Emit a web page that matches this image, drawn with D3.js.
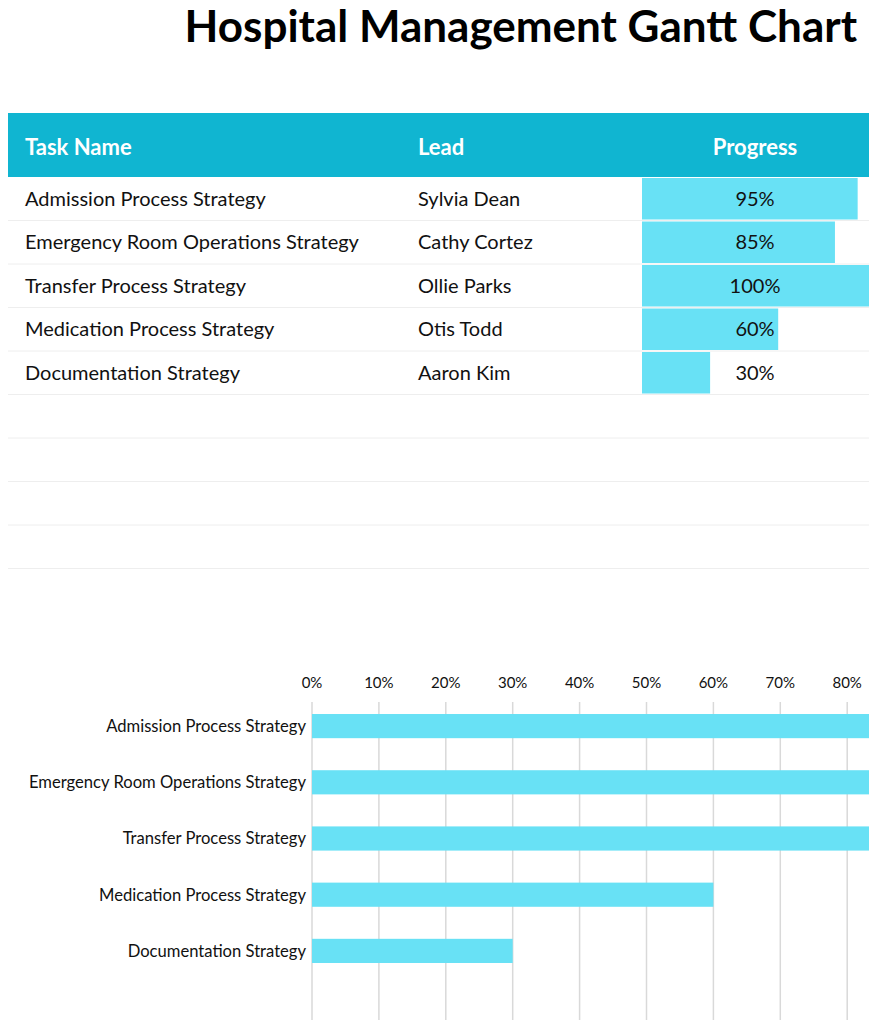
<!DOCTYPE html>
<html>
<head>
<meta charset="utf-8">
<script src="https://cdn.jsdelivr.net/npm/d3@7"></script>
<style>
  body { margin: 0; background: #fff; }
  svg { display: block; font-family: Lato, sans-serif; }
</style>
</head>
<body>
<svg id="chart"></svg>
<script>
// table + chart data
var tasks = ['Admission Process Strategy', 'Emergency Room Operations Strategy', 'Transfer Process Strategy', 'Medication Process Strategy', 'Documentation Strategy']
var leads = ['Sylvia Dean', 'Cathy Cortez', 'Ollie Parks', 'Otis Todd', 'Aaron Kim']
var progress = [0.95, 0.85, 1.00, 0.60, 0.30]
var headers = ['Task Name', 'Lead', 'Progress']
var tickValues = [0, 0.1, 0.2, 0.3, 0.4, 0.5, 0.6, 0.7, 0.8, 0.9, 1]

var width = 877,
    height = 1020

var teal = '#10b5d1',
    barColor = '#68e1f5'

var svg = d3.select('#chart')
            .attr('width', width)
            .attr('height', height)

svg.append('text')
  .attr('x', 857)
  .attr('y', 42)
  .attr('text-anchor', 'end')
  .style('font-size', '44px')
  .style('font-weight', 'bold')
  .attr('fill', '#000')
  .text('Hospital Management Gantt Chart')

// ---- table ----
var tableLeft = 8, tableRight = 869
var headTop = 113, headH = 64, rowH = 43.5, totalRows = 9
var colX = [25, 418]
var progX = d3.scaleLinear().domain([0, 1]).range([642, 869])

svg.append('rect')
  .attr('x', tableLeft).attr('y', headTop)
  .attr('width', tableRight - tableLeft).attr('height', headH)
  .attr('fill', teal)

var head = svg.append('g').attr('fill', '#fff')
  .style('font-size', '22px').style('font-weight', 'bold')
head.append('text').attr('x', colX[0]).attr('y', headTop + headH / 2 + 2).attr('dy', '0.35em').text(headers[0])
head.append('text').attr('x', colX[1]).attr('y', headTop + headH / 2 + 2).attr('dy', '0.35em').text(headers[1])
head.append('text').attr('x', 755).attr('y', headTop + headH / 2 + 2).attr('dy', '0.35em')
  .attr('text-anchor', 'middle').text(headers[2])

var bodyTop = headTop + headH

// row separators (empty rows too)
svg.append('g').selectAll('line')
  .data(d3.range(1, totalRows + 1))
  .enter().append('line')
  .attr('x1', tableLeft).attr('x2', tableRight)
  .attr('y1', (d) => bodyTop + d * rowH)
  .attr('y2', (d) => bodyTop + d * rowH)
  .attr('stroke', '#eeeeee')
  .attr('stroke-width', 1)

var rows = svg.append('g').selectAll('g')
  .data(tasks.map((t, i) => ({task: t, lead: leads[i], p: progress[i]})))
  .enter().append('g')
  .attr('transform', (d, i) => `translate(0, ${bodyTop + i * rowH})`)

rows.append('rect')
  .attr('x', progX(0))
  .attr('y', 1)
  .attr('width', (d) => progX(d.p) - progX(0))
  .attr('height', rowH - 2)
  .attr('fill', barColor)

rows.append('text').attr('x', colX[0]).attr('y', rowH / 2).attr('dy', '0.35em')
  .style('font-size', '20px').attr('fill', '#111').text((d) => d.task)
rows.append('text').attr('x', colX[1]).attr('y', rowH / 2).attr('dy', '0.35em')
  .style('font-size', '20px').attr('fill', '#111').text((d) => d.lead)
rows.append('text').attr('x', 755).attr('y', rowH / 2).attr('dy', '0.35em')
  .attr('text-anchor', 'middle')
  .style('font-size', '20px').attr('fill', '#111').text((d) => Math.round(d.p * 100) + '%')

// ---- bar chart (clipped on the right like the source) ----
svg.append('defs').append('clipPath').attr('id', 'clip')
  .append('rect').attr('x', 0).attr('y', 600).attr('width', 869).attr('height', 420)

var x = d3.scaleLinear().domain([0, 1]).range([312, 312 + 669])
var y = d3.scaleBand().domain(tasks).range([698, 979]).paddingInner(0.57).paddingOuter(0.285)

var chart = svg.append('g').attr('clip-path', 'url(#clip)')

chart.append('g').selectAll('line')
  .data(tickValues)
  .enter().append('line')
  .attr('x1', (d) => x(d)).attr('x2', (d) => x(d))
  .attr('y1', 702).attr('y2', 1020)
  .attr('stroke', '#d9d9d9')
  .attr('stroke-width', 1.5)

// only labels that fit inside the visible area
svg.append('g').selectAll('text')
  .data(tickValues.filter((d) => x(d) + 18 < width))
  .enter().append('text')
  .attr('x', (d) => x(d))
  .attr('y', 688)
  .attr('text-anchor', 'middle')
  .style('font-size', '15px')
  .attr('fill', '#111')
  .text((d) => d3.format('.0%')(d))

chart.append('g').selectAll('rect')
  .data(tasks)
  .enter().append('rect')
  .attr('x', x(0))
  .attr('y', (d) => y(d))
  .attr('width', (d, i) => x(progress[i]) - x(0))
  .attr('height', y.bandwidth())
  .attr('fill', barColor)

svg.append('g').selectAll('text')
  .data(tasks)
  .enter().append('text')
  .attr('x', 306)
  .attr('y', (d) => y(d) + y.bandwidth() / 2)
  .attr('dy', '0.35em')
  .attr('text-anchor', 'end')
  .style('font-size', '16.6px')
  .attr('fill', '#111')
  .text((d) => d)
</script>
</body>
</html>
